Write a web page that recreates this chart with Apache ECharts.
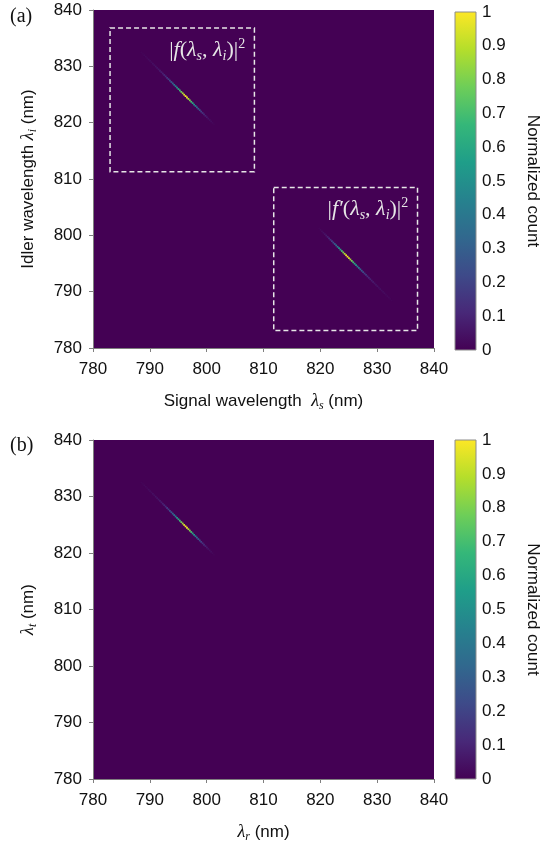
<!DOCTYPE html>
<html>
<head>
<meta charset="utf-8">
<script src="https://cdn.jsdelivr.net/npm/echarts@6/dist/echarts.min.js"></script>
<style>
  html, body { margin: 0; padding: 0; background: #fff; }
  #chart { width: 542px; height: 844px; }
</style>
</head>
<body>
<div id="chart"></div>
<script>
// axis range (nm)
const axisMin = 780, axisMax = 840, axisStep = 10;

// joint spectral intensity streak (cells of 0.25 nm)
const streakSignal = [788.5, 788.75, 789, 789.25, 789.5, 789.75, 790, 790.25, 790.5, 790.75,
  791, 791.25, 791.5, 791.75, 792, 792.25, 792.5, 792.75, 793, 793.25,
  793.5, 793.75, 794, 794.25, 794.5, 794.75, 795, 795.25, 795.5, 795.75,
  796, 796.25, 796.5, 796.75, 797, 797.25, 797.5, 797.75, 798, 798.25,
  798.5, 798.75, 799, 799.25, 799.5, 799.75, 800, 800.25, 800.5, 800.75,
  801, 801.25];
const streakIdler = [832.5, 832.25, 832, 831.75, 831.5, 831.25, 831, 830.75, 830.5, 830.25,
  830, 829.75, 829.5, 829.25, 829, 828.75, 828.5, 828.25, 828, 827.75,
  827.5, 827.25, 827, 826.75, 826.5, 826.25, 826, 825.75, 825.5, 825.25,
  825, 824.75, 824.5, 824.25, 824, 823.75, 823.5, 823.25, 823, 822.75,
  822.5, 822.25, 822, 821.75, 821.5, 821.25, 821, 820.75, 820.5, 820.25,
  820, 819.75];
const streakCount = [0.01, 0.01, 0.02, 0.02, 0.02, 0.03, 0.03, 0.03, 0.04, 0.04,
  0.05, 0.05, 0.06, 0.07, 0.08, 0.09, 0.11, 0.13, 0.16, 0.19,
  0.23, 0.28, 0.33, 0.38, 0.45, 0.52, 0.60, 0.68, 0.77, 0.86,
  0.94, 1.00, 0.97, 0.89, 0.80, 0.70, 0.60, 0.51, 0.43, 0.36,
  0.30, 0.24, 0.19, 0.15, 0.12, 0.09, 0.07, 0.05, 0.04, 0.03,
  0.02, 0.01];
const cellNm = 0.25;

// dashed boxes in panel (a): [corner, corner] in nm
const boxF = [[783.0, 836.8], [808.4, 811.3]];
const boxFPrime = [[811.8, 808.5], [837.1, 783.1]];

const viridis = ['#440154', '#482878', '#3e4a89', '#31688e', '#26828e',
  '#1f9e89', '#35b779', '#6ece58', '#b5de2b', '#fde725'];

// f(ls, li), and f'(ls, li) = f(li, ls)
const fData = streakSignal.map((s, k) => [s, streakIdler[k], streakCount[k]]);
const fPrimeData = streakSignal.map((s, k) => [streakIdler[k], s, streakCount[k]]);

const sans = 'Liberation Sans';
const serif = 'Liberation Serif';

const nameRich = {
  t: { fontFamily: sans, fontSize: 17, color: '#111', lineHeight: 22 },
  m: { fontFamily: serif, fontStyle: 'italic', fontSize: 18, color: '#111', lineHeight: 22 },
  sb: { fontFamily: serif, fontStyle: 'italic', fontSize: 12, color: '#111', lineHeight: 14, verticalAlign: 'bottom' }
};
const boxRich = {
  t: { fontFamily: serif, fontSize: 22, color: '#e6e6e6', lineHeight: 26 },
  it: { fontFamily: serif, fontStyle: 'italic', fontSize: 22, color: '#e6e6e6', lineHeight: 26 },
  sb: { fontFamily: serif, fontStyle: 'italic', fontSize: 14, color: '#e6e6e6', lineHeight: 16, verticalAlign: 'bottom' },
  sp: { fontFamily: serif, fontSize: 14, color: '#e6e6e6', lineHeight: 14, verticalAlign: 'top' }
};

const tickLabel = { color: '#111', fontSize: 17, fontFamily: sans };

function valueAxis(gridIndex, extra) {
  return Object.assign({
    type: 'value', gridIndex: gridIndex,
    min: axisMin, max: axisMax, interval: axisStep,
    axisLine: { show: true, onZero: false, lineStyle: { color: '#7f7f7f', width: 1 } },
    axisTick: { show: true, length: 4, lineStyle: { color: '#7f7f7f' } },
    splitLine: { show: false },
    nameLocation: 'middle',
    nameTextStyle: { rich: nameRich }
  }, extra);
}

function cbarAxes(gridIndex) {
  return {
    x: { type: 'value', gridIndex: gridIndex, min: 0, max: 1, show: false },
    y: {
      type: 'value', gridIndex: gridIndex, min: 0, max: 1, interval: 0.1, position: 'right',
      axisLine: { show: false }, axisTick: { show: false }, splitLine: { show: false },
      axisLabel: Object.assign({ margin: 6 }, tickLabel),
      name: 'Normalized count', nameLocation: 'middle', nameRotate: -90, nameGap: 48,
      nameTextStyle: { color: '#111', fontSize: 17, fontFamily: sans }
    }
  };
}

function renderCell(params, api) {
  const corner = api.coord([api.value(0) - cellNm / 2, api.value(1) + cellNm / 2]);
  const size = api.size([cellNm, cellNm]);
  return {
    type: 'rect',
    shape: { x: corner[0], y: corner[1], width: size[0] + 0.4, height: size[1] + 0.4 },
    style: { fill: api.visual('color') }
  };
}

function renderColorbar(params, api) {
  const tl = api.coord([0, 1]);
  const br = api.coord([1, 0]);
  return {
    type: 'rect',
    shape: { x: tl[0], y: tl[1], width: br[0] - tl[0], height: br[1] - tl[1] },
    style: {
      fill: new echarts.graphic.LinearGradient(0, 1, 0, 0,
        viridis.map((c, k) => ({ offset: k / (viridis.length - 1), color: c }))),
      stroke: '#8c8c8c', lineWidth: 1
    }
  };
}

const cbA = cbarAxes(2), cbB = cbarAxes(3);

const boxLabel = (text) => ({
  show: true, position: 'insideTopRight', distance: 10,
  formatter: text, rich: boxRich
});

const xLabel = Object.assign({ margin: 13 }, tickLabel);
const yLabel = Object.assign({ margin: 11 }, tickLabel);

const option = {
  backgroundColor: '#fff',
  animation: false,
  title: [
    { text: '(a)', left: 5, top: 2, textStyle: { fontFamily: serif, fontWeight: 'normal', fontSize: 20, color: '#111' } },
    { text: '(b)', left: 5, top: 431, textStyle: { fontFamily: serif, fontWeight: 'normal', fontSize: 20, color: '#111' } }
  ],
  grid: [
    { left: 93, top: 10, width: 341, height: 338, show: true, backgroundColor: '#440154', borderWidth: 0 },
    { left: 93, top: 440, width: 341, height: 339, show: true, backgroundColor: '#440154', borderWidth: 0 },
    { left: 455, top: 12, width: 21, height: 338 },
    { left: 455, top: 440, width: 21, height: 339 }
  ],
  xAxis: [
    valueAxis(0, { name: '{t|Signal wavelength  }{m|λ}{sb|s}{t| (nm)}', nameGap: 42, axisLabel: xLabel }),
    valueAxis(1, { name: '{m|λ}{sb|r}{t| (nm)}', nameGap: 42, axisLabel: xLabel }),
    cbA.x, cbB.x
  ],
  yAxis: [
    valueAxis(0, { name: '{t|Idler wavelength }{m|λ}{sb|i}{t| (nm)}', nameGap: 54, axisLabel: yLabel }),
    valueAxis(1, { name: '{m|λ}{sb|t}{t| (nm)}', nameGap: 54, axisLabel: yLabel }),
    cbA.y, cbB.y
  ],
  visualMap: {
    show: false, type: 'continuous', min: 0, max: 1, dimension: 2,
    seriesIndex: [0, 1, 2], inRange: { color: viridis }
  },
  series: [
    { type: 'custom', name: 'f', xAxisIndex: 0, yAxisIndex: 0, data: fData, renderItem: renderCell, clip: true, silent: true },
    { type: 'custom', name: "f'", xAxisIndex: 0, yAxisIndex: 0, data: fPrimeData, renderItem: renderCell, clip: true, silent: true },
    { type: 'custom', name: 'f (b)', xAxisIndex: 1, yAxisIndex: 1, data: fData, renderItem: renderCell, clip: true, silent: true },
    {
      type: 'line', xAxisIndex: 0, yAxisIndex: 0, data: [], silent: true,
      markArea: {
        silent: true,
        itemStyle: { color: 'rgba(0,0,0,0)', borderColor: '#e6e6e6', borderWidth: 1.5, borderType: [5, 3] },
        data: [
          [{ coord: boxF[0], label: boxLabel('{t||}{it|f}{t|(}{it|λ}{sb|s}{t|, }{it|λ}{sb|i}{t|)|}{sp|2}') }, { coord: boxF[1] }],
          [{ coord: boxFPrime[0], label: boxLabel("{t||}{it|f′}{t|(}{it|λ}{sb|s}{t|, }{it|λ}{sb|i}{t|)|}{sp|2}") }, { coord: boxFPrime[1] }]
        ]
      }
    },
    { type: 'custom', xAxisIndex: 2, yAxisIndex: 2, data: [[0, 1]], renderItem: renderColorbar, clip: false, silent: true },
    { type: 'custom', xAxisIndex: 3, yAxisIndex: 3, data: [[0, 1]], renderItem: renderColorbar, clip: false, silent: true }
  ]
};

const myChart = echarts.init(document.getElementById('chart'), null, { renderer: 'canvas' });
myChart.setOption(option);
</script>
</body>
</html>
